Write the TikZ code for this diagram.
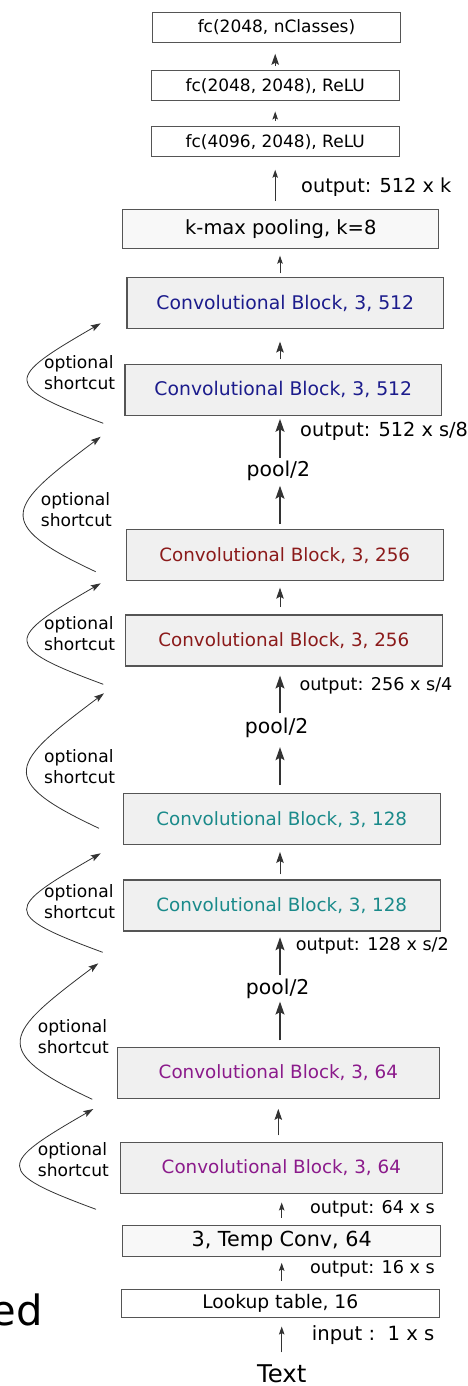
\documentclass[tikz,border=0pt]{standalone}
\usepackage{fontspec}
\setmainfont{DejaVu Sans}
\usepackage{tikz}
\usetikzlibrary{arrows.meta}

\definecolor{blk512}{HTML}{1C1C8C}
\definecolor{blk256}{HTML}{8B1A1A}
\definecolor{blk128}{HTML}{1A8A8A}
\definecolor{blk64}{HTML}{8B1A8B}
\definecolor{boxgray}{HTML}{F0F0F0}
\definecolor{boxlight}{HTML}{F8F8F8}
\definecolor{edgegray}{HTML}{555555}

\tikzset{
  convbox/.style={draw=edgegray, line width=1.1pt, fill=boxgray, inner sep=0pt,
    minimum width=316.7pt, minimum height=51pt, font=\fontsize{18.3}{22}\selectfont},
  fcbox/.style={draw=edgegray, line width=1pt, fill=white, inner sep=0pt,
    minimum width=248.3pt, minimum height=30.3pt, font=\fontsize{17}{20}\selectfont},
  flatbox/.style={fcbox, fill=boxlight},
  pool/.style={inner sep=0pt, font=\fontsize{20.4}{24}\selectfont},
  note/.style={inner sep=0pt, anchor=west, font=\fontsize{17.6}{21}\selectfont},
  bignote/.style={note, font=\fontsize{19.3}{23}\selectfont},
  shortcut/.style={inner sep=0pt, anchor=west, align=left, font=\fontsize{17.1}{21}\selectfont},
  arr/.style={draw=black!80, line width=0.9pt, -{Stealth[length=8pt, width=5.5pt, inset=1.5pt]}},
  arrmid/.style={arr, line width=1pt, -{Stealth[length=11pt, width=7.5pt, inset=2pt]}},
  arrbig/.style={arr, line width=1.3pt, -{Stealth[length=13pt, width=9pt, inset=2.5pt]}},
  skip/.style={draw=black!80, line width=0.8pt, -{Stealth[length=10pt, width=6.5pt, inset=2pt]}}
}

\begin{document}
\begin{tikzpicture}[x=1pt, y=-1pt]
\useasboundingbox (0,0) rectangle (467,1386);
\coordinate (axis) at (280,0);

% classifier on top
\node[fcbox] (fc3) at (276.5,27.5) {fc(2048, nClasses)};
\node[fcbox] (fc2) at (275.2,85.8) {fc(2048, 2048), ReLU};
\node[fcbox] (fc1) at (275.2,141.8) {fc(4096, 2048), ReLU};
\node[flatbox, minimum width=315.7pt, minimum height=39.4pt, font=\fontsize{19.5}{23}\selectfont] (kmax) at (280.8,229) {k-max pooling, k=8};

% convolutional blocks
\node[convbox, text=blk512, font=\fontsize{18.8}{22}\selectfont] (c512b) at (285.3,303.2) {Convolutional Block, 3, 512};
\node[convbox, text=blk512, font=\fontsize{18.8}{22}\selectfont] (c512a) at (283.3,389.8) {Convolutional Block, 3, 512};
\node[convbox, text=blk256] (c256b) at (284.7,555.2) {Convolutional Block, 3, 256};
\node[convbox, text=blk256] (c256a) at (283.8,640.5) {Convolutional Block, 3, 256};
\node[convbox, text=blk128] (c128b) at (281.7,819.2) {Convolutional Block, 3, 128};
\node[convbox, text=blk128] (c128a) at (281.7,905.5) {Convolutional Block, 3, 128};
\node[convbox, text=blk64, minimum width=322pt] (c64b) at (278.3,1072.8) {Convolutional Block, 3, 64};
\node[convbox, text=blk64, minimum width=322pt] (c64a) at (281.3,1168) {Convolutional Block, 3, 64};

% input side
\node[flatbox, minimum width=318pt, minimum height=30.7pt, font=\fontsize{20.7}{24}\selectfont] (tconv) at (281.7,1240.7) {3, Temp Conv, 64};
\node[fcbox, minimum width=318pt, minimum height=28.4pt, font=\fontsize{18.7}{22}\selectfont] (lookup) at (280.3,1303.5) {Lookup table, 16};
\node[inner sep=0pt, font=\fontsize{24.4}{29}\selectfont] (text) at (281.7,1373.3) {Text};
\node[inner sep=0pt, anchor=base east, font=\fontsize{41.7}{50}\selectfont] (ed) at (43,1325) {ed};

% pooling steps
\node[pool] (pool3) at (278.3,470.7) {pool/2};
\node[pool] (pool2) at (276.7,728.3) {pool/2};
\node[pool] (pool1) at (277.7,989.3) {pool/2};

% sizes
\node[bignote] (o512k) at (301,186.7) {output: 512 x k};
\node[bignote] (o512) at (300,431) {output: 512 x s/8};
\node[note] (o256) at (299.3,686) {output: 256 x s/4};
\node[note] (o128) at (295.7,946) {output: 128 x s/2};
\node[note] (o64) at (310,1208.3) {output: 64 x s};
\node[note] (o16) at (310,1269) {output: 16 x s};
\node[note, font=\fontsize{19.6}{23}\selectfont] (oin) at (311.7,1335) {input :\ \ 1 x s};

% shortcut labels
\node[shortcut] (sc1) at (44,372.8) {optional\\shortcut};
\node[shortcut] (sc2) at (40.7,509.5) {optional\\shortcut};
\node[shortcut] (sc3) at (44,633.7) {optional\\shortcut};
\node[shortcut] (sc4) at (44,766.2) {optional\\shortcut};
\node[shortcut] (sc5) at (44,902) {optional\\shortcut};
\node[shortcut] (sc6) at (37.7,1036.3) {optional\\shortcut};
\node[shortcut] (sc7) at (37.7,1159.2) {optional\\shortcut};

% main flow
\draw[arrmid, shorten <=4pt, shorten >=10.6pt] (fc2.north) -- (fc2.north |- fc3.south);
\draw[arr, shorten <=5pt, shorten >=10pt] (fc1.north) -- (fc1.north |- fc2.south);
\draw[arr, shorten <=7.6pt, shorten >=12.3pt] (kmax.north -| fc1.south) -- (fc1.south);
\draw[arr, shorten <=3.7pt, shorten >=6.5pt] (c512b.north -| axis) -- (kmax.south -| axis);
\draw[arrmid, shorten <=4.3pt, shorten >=12.3pt] (c512a.north -| axis) -- (c512b.south -| axis);
\draw[arrbig, shorten <=3pt, shorten >=3pt] (pool3.north -| axis) -- (c512a.south -| axis);
\draw[arrbig, shorten <=5pt, shorten >=5pt] (c256b.north -| axis) -- (pool3.south -| axis);
\draw[arrmid, shorten <=7.3pt, shorten >=6.4pt] (c256a.north -| axis) -- (c256b.south -| axis);
\draw[arrbig, shorten <=4.8pt, shorten >=9pt] (pool2.north -| axis) -- (c256a.south -| axis);
\draw[arrbig, shorten <=8pt, shorten >=8.8pt] (c128b.north -| axis) -- (pool2.south -| axis);
\draw[arrmid, shorten <=5pt, shorten >=6.7pt] (c128a.north -| axis) -- (c128b.south -| axis);
\draw[arrbig, shorten <=4.1pt, shorten >=5.7pt] (pool1.north -| axis) -- (c128a.south -| axis);
\draw[arrbig, shorten <=6.3pt, shorten >=2.2pt] (c64b.north -| axis) -- (pool1.south -| axis);
\draw[arrmid, shorten <=6.7pt, shorten >=10pt] (c64a.north -| c64b.south) -- (c64b.south);
\draw[arr, shorten <=7pt, shorten >=8.4pt] (tconv.north) -- (tconv.north |- c64a.south);
\draw[arr, shorten <=7.6pt, shorten >=6.3pt] (lookup.north -| tconv.south) -- (tconv.south);
\draw[arr, shorten <=11.7pt, shorten >=8.3pt] (text.north) -- (text.north |- lookup.south);

% optional shortcuts
\coordinate (s1b) at (103.3,423.3);  \coordinate (s1t) at (100.7,323.3);
\coordinate (s2b) at (95.7,571.7);   \coordinate (s2t) at (100.7,436.7);
\coordinate (s3b) at (103.3,684.3);  \coordinate (s3t) at (100.7,583.3);
\coordinate (s4b) at (99,828.3);     \coordinate (s4t) at (104,693.3);
\coordinate (s5b) at (102.7,952.3);  \coordinate (s5t) at (100.7,853.3);
\coordinate (s6b) at (92.3,1099.3);  \coordinate (s6t) at (98.3,963.3);
\coordinate (s7b) at (96,1209.3);    \coordinate (s7t) at (93.3,1109);
\draw[skip] (s1b) .. controls +(-103,-38) and +(-95,55) .. (s1t);
\draw[skip] (s2b) .. controls +(-105,-49) and +(-93,70) .. (s2t);
\draw[skip] (s3b) .. controls +(-103,-38) and +(-95,55) .. (s3t);
\draw[skip] (s4b) .. controls +(-105,-49) and +(-93,70) .. (s4t);
\draw[skip] (s5b) .. controls +(-103,-38) and +(-95,55) .. (s5t);
\draw[skip] (s6b) .. controls +(-105,-49) and +(-93,70) .. (s6t);
\draw[skip] (s7b) .. controls +(-103,-38) and +(-95,55) .. (s7t);
\end{tikzpicture}
\end{document}
